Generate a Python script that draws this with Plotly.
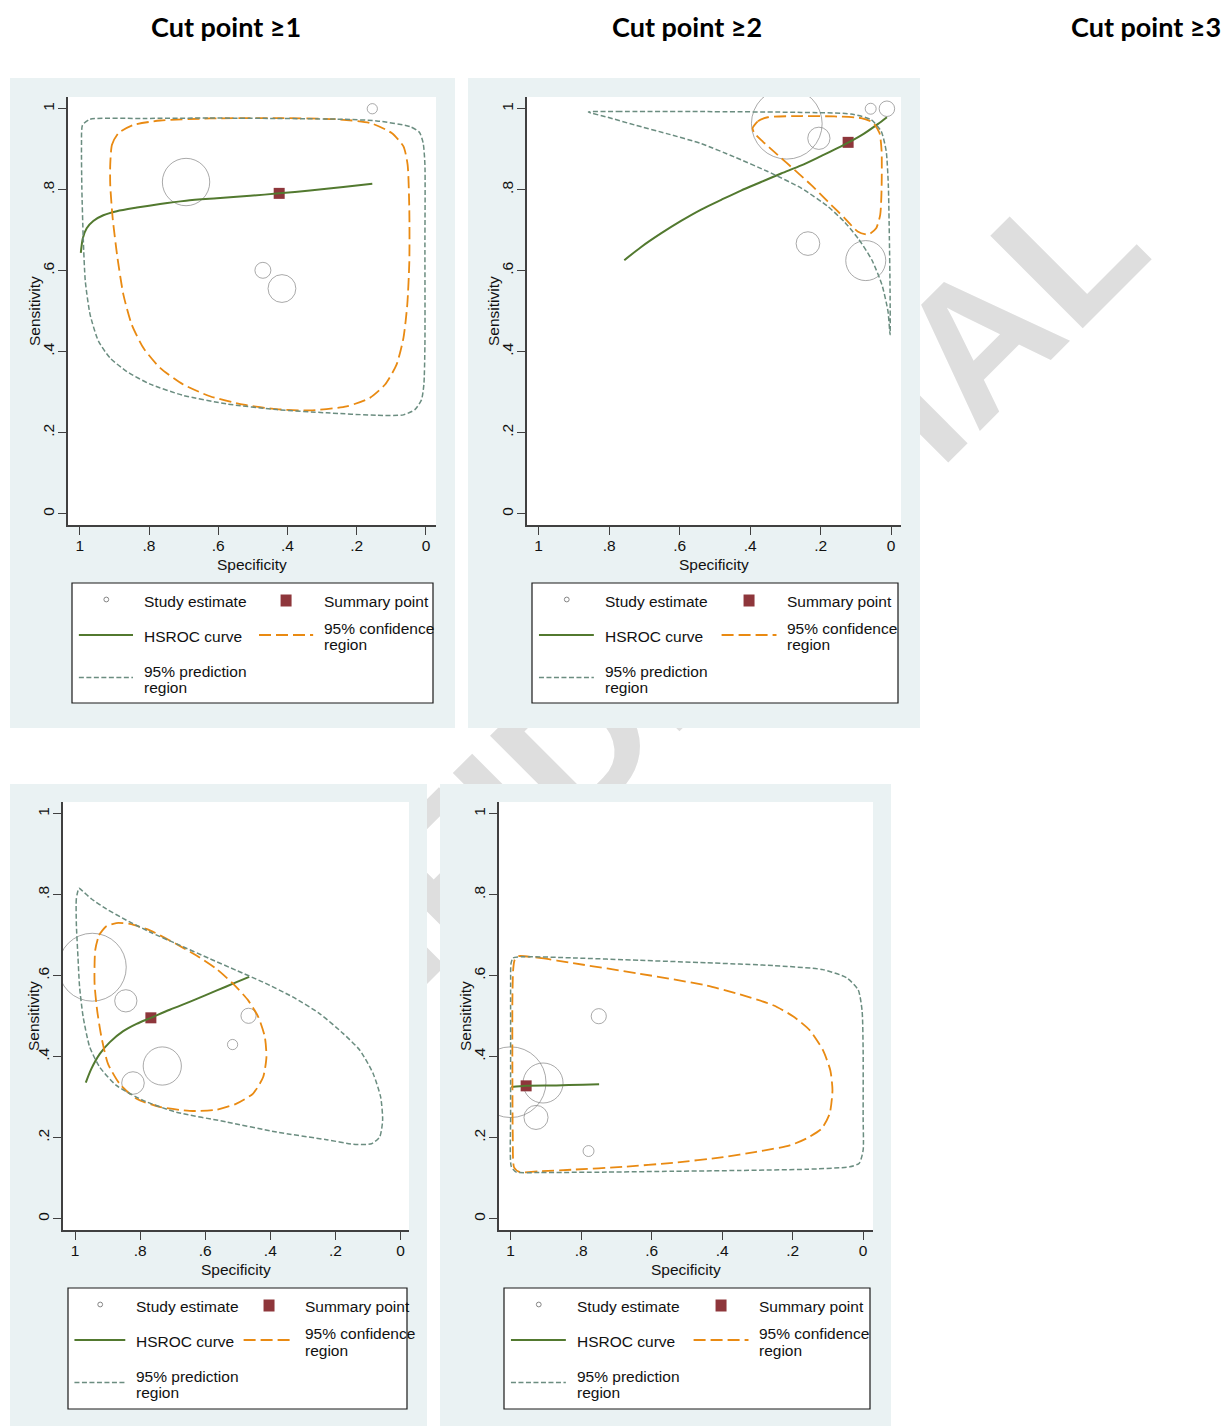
import plotly.graph_objects as go

# ---------------------------------------------------------------------------
# Study-level data (specificity, sensitivity, relative weight) per cut point
# ---------------------------------------------------------------------------
# Cut point >=1
c1_study_spec = [0.155, 0.693, 0.471, 0.416]
c1_study_sens = [1.000, 0.819, 0.601, 0.556]
c1_study_wt = [2.1, 44.9, 5.1, 15.5]
c1_summary_spec = [0.424]
c1_summary_sens = [0.791]
c1_hsroc_spec = [0.997, 0.991, 0.980, 0.961, 0.932, 0.893, 0.835, 0.768, 0.693,
                 0.604, 0.508, 0.424, 0.335, 0.239, 0.155]
c1_hsroc_sens = [0.644, 0.681, 0.705, 0.723, 0.737, 0.747, 0.756, 0.765, 0.773,
                 0.779, 0.785, 0.791, 0.798, 0.807, 0.815]
c1_conf_spec = [0.912, 0.907, 0.888, 0.845, 0.768, 0.624, 0.431, 0.258, 0.162, 0.099,
                0.065, 0.053, 0.048, 0.048, 0.054, 0.065, 0.085, 0.118, 0.162, 0.229,
                0.335, 0.431, 0.527, 0.624, 0.701, 0.768, 0.816, 0.850, 0.874, 0.891,
                0.905, 0.912, 0.912]
c1_conf_sens = [0.862, 0.911, 0.940, 0.960, 0.971, 0.976, 0.977, 0.974, 0.965, 0.940,
                0.907, 0.862, 0.747, 0.623, 0.516, 0.434, 0.368, 0.319, 0.286, 0.265,
                0.255, 0.258, 0.269, 0.290, 0.319, 0.360, 0.409, 0.467, 0.541, 0.631,
                0.730, 0.812, 0.862]
c1_pred_spec = [0.992, 0.970, 0.816, 0.624, 0.431, 0.239, 0.142, 0.046, 0.019, 0.008,
                0.003, 0.003, 0.003, 0.006, 0.013, 0.032, 0.065, 0.142, 0.287, 0.431,
                0.576, 0.701, 0.797, 0.864, 0.912, 0.946, 0.970, 0.984, 0.990, 0.994,
                0.995, 0.992]
c1_pred_sens = [0.960, 0.974, 0.976, 0.977, 0.976, 0.974, 0.970, 0.956, 0.942, 0.915,
                0.862, 0.664, 0.417, 0.319, 0.281, 0.257, 0.244, 0.243, 0.249, 0.257,
                0.271, 0.292, 0.320, 0.351, 0.384, 0.426, 0.491, 0.574, 0.681, 0.804,
                0.911, 0.960]

# Cut point >=2
c2_study_spec = [0.296, 0.205, 0.058, 0.012, 0.236, 0.072]
c2_study_sens = [0.963, 0.927, 1.000, 1.000, 0.667, 0.625]
c2_study_wt = [100.0, 9.9, 2.4, 4.8, 11.2, 32.0]
c2_summary_spec = [0.122]
c2_summary_sens = [0.917]
c2_hsroc_spec = [0.757, 0.710, 0.653, 0.596, 0.539, 0.482, 0.426, 0.369, 0.312, 0.255,
                 0.199, 0.142, 0.085, 0.038, 0.012]
c2_hsroc_sens = [0.626, 0.658, 0.692, 0.723, 0.751, 0.775, 0.798, 0.819, 0.840, 0.860,
                 0.883, 0.907, 0.934, 0.962, 0.979]
c2_conf_spec = [0.393, 0.378, 0.350, 0.255, 0.161, 0.085, 0.052, 0.033, 0.027, 0.027,
                0.031, 0.043, 0.066, 0.095, 0.132, 0.180, 0.227, 0.274, 0.322, 0.364,
                0.388, 0.393]
c2_conf_sens = [0.952, 0.969, 0.979, 0.982, 0.981, 0.977, 0.966, 0.940, 0.895, 0.804,
                0.738, 0.704, 0.689, 0.697, 0.730, 0.771, 0.812, 0.849, 0.886, 0.919,
                0.940, 0.952]
c2_pred_spec = [0.859, 0.776, 0.539, 0.255, 0.114, 0.057, 0.028, 0.014, 0.008, 0.005,
                0.003, 0.003, 0.009, 0.026, 0.055, 0.093, 0.132, 0.180, 0.255, 0.350,
                0.445, 0.539, 0.634, 0.728, 0.804, 0.859]
c2_pred_sens = [0.992, 0.993, 0.993, 0.991, 0.987, 0.973, 0.944, 0.895, 0.812, 0.681,
                0.549, 0.442, 0.500, 0.565, 0.627, 0.679, 0.720, 0.759, 0.804, 0.845,
                0.881, 0.914, 0.938, 0.960, 0.979, 0.992]

# Cut point >=3
c3_study_spec = [0.947, 0.844, 0.467, 0.516, 0.732, 0.822]
c3_study_sens = [0.621, 0.538, 0.501, 0.430, 0.377, 0.335]
c3_study_wt = [92.2, 9.9, 4.6, 2.1, 29.2, 10.2]
c3_summary_spec = [0.767]
c3_summary_sens = [0.496]
c3_hsroc_spec = [0.967, 0.950, 0.924, 0.893, 0.852, 0.811, 0.767, 0.709, 0.637,
                 0.566, 0.504, 0.465]
c3_hsroc_sens = [0.336, 0.370, 0.407, 0.436, 0.463, 0.481, 0.496, 0.516, 0.539,
                 0.563, 0.584, 0.597]
c3_conf_spec = [0.938, 0.926, 0.904, 0.873, 0.832, 0.770, 0.709, 0.627, 0.566, 0.514,
                0.468, 0.437, 0.417, 0.412, 0.422, 0.453, 0.504, 0.566, 0.648, 0.740,
                0.811, 0.863, 0.899, 0.919, 0.932, 0.940, 0.938]
c3_conf_sens = [0.663, 0.700, 0.722, 0.730, 0.728, 0.712, 0.687, 0.650, 0.617, 0.580,
                0.539, 0.498, 0.449, 0.399, 0.350, 0.309, 0.284, 0.269, 0.266, 0.276,
                0.296, 0.333, 0.383, 0.449, 0.514, 0.580, 0.663]
c3_pred_spec = [0.988, 0.996, 0.996, 0.991, 0.986, 0.975, 0.955, 0.924, 0.873, 0.791,
                0.689, 0.535, 0.381, 0.227, 0.145, 0.089, 0.064, 0.055, 0.061, 0.084,
                0.125, 0.176, 0.248, 0.330, 0.422, 0.504, 0.586, 0.689, 0.770, 0.842,
                0.904, 0.950, 0.981, 0.988]
c3_pred_sens = [0.816, 0.790, 0.728, 0.646, 0.572, 0.498, 0.424, 0.374, 0.329, 0.292,
                0.263, 0.239, 0.214, 0.195, 0.184, 0.185, 0.202, 0.243, 0.300, 0.358,
                0.416, 0.457, 0.506, 0.547, 0.584, 0.613, 0.642, 0.679, 0.708, 0.737,
                0.765, 0.790, 0.812, 0.816]

# Cut point >=4
c4_study_spec = [1.000, 0.908, 0.928, 0.750, 0.779]
c4_study_sens = [0.337, 0.335, 0.250, 0.500, 0.167]
c4_study_wt = [100.0, 32.0, 11.6, 4.6, 2.4]
c4_summary_spec = [0.956]
c4_summary_sens = [0.328]
c4_hsroc_spec = [0.998, 0.956, 0.870, 0.795, 0.749]
c4_hsroc_sens = [0.325, 0.328, 0.329, 0.331, 0.332]
c4_conf_spec = [0.979, 0.918, 0.823, 0.634, 0.445, 0.350, 0.255, 0.199, 0.151, 0.114,
                0.093, 0.087, 0.095, 0.118, 0.161, 0.208, 0.303, 0.397, 0.539, 0.681,
                0.823, 0.918, 0.974, 0.990, 0.994, 0.995, 0.995, 0.993, 0.989, 0.979]
c4_conf_sens = [0.648, 0.644, 0.631, 0.605, 0.576, 0.554, 0.527, 0.500, 0.465, 0.416,
                0.366, 0.317, 0.259, 0.222, 0.198, 0.181, 0.165, 0.152, 0.138, 0.128,
                0.121, 0.117, 0.115, 0.126, 0.210, 0.374, 0.539, 0.613, 0.638, 0.648]
c4_pred_spec = [0.999, 0.993, 0.965, 0.823, 0.634, 0.445, 0.255, 0.114, 0.047, 0.014,
                0.003, 0.000, 0.000, 0.000, 0.011, 0.038, 0.161, 0.350, 0.539, 0.728,
                0.918, 0.984, 0.998, 1.000, 1.000, 1.000, 0.999]
c4_pred_sens = [0.630, 0.644, 0.647, 0.644, 0.638, 0.632, 0.625, 0.615, 0.595, 0.565,
                0.514, 0.416, 0.251, 0.169, 0.137, 0.128, 0.122, 0.119, 0.117, 0.115,
                0.114, 0.115, 0.128, 0.251, 0.416, 0.580, 0.630]

# Axis ticks and labels
tick_vals = [0, 0.2, 0.4, 0.6, 0.8, 1]
tick_text = ["0", ".2", ".4", ".6", ".8", "1"]
headings = ["Cut point \u22651", "Cut point \u22652", "Cut point \u22653"]
legend_labels = ["Study estimate", "Summary point", "HSROC curve",
                 ["95% confidence", "region"], ["95% prediction", "region"]]
watermark_text = "CONFIDENTIAL"

# ---------------------------------------------------------------------------
# Page geometry (pixels on a 1225 x 1426 page)
# ---------------------------------------------------------------------------
W, H = 1225, 1426


def fx(px):
    return px / W


def fy(py):
    return 1 - py / H


SANS = "Liberation Sans, Arial, sans-serif"
HEAD_FONT = "Lato, Carlito, Open Sans, sans-serif"
FS = 15.5

PANEL_BG = "#eaf2f3"
AXIS_C = "#404040"
TEXT_C = "#111111"
STUDY_C = "#858585"
SUMMARY_C = "#8e363b"
HSROC_C = "#52792f"
CONF_C = "#e98a12"
PRED_C = "#6b8d80"

panels = [
    dict(data=(c1_study_spec, c1_study_sens, c1_study_wt, c1_summary_spec, c1_summary_sens,
               c1_hsroc_spec, c1_hsroc_sens, c1_conf_spec, c1_conf_sens, c1_pred_spec, c1_pred_sens),
         plot=(68, 436, 97, 525), xr=[1.034, -0.029], bg=(10, 455, 78, 728),
         leg=(72, 433, 583, 703), ytitle_dx=34),
    dict(data=(c2_study_spec, c2_study_sens, c2_study_wt, c2_summary_spec, c2_summary_sens,
               c2_hsroc_spec, c2_hsroc_sens, c2_conf_spec, c2_conf_sens, c2_pred_spec, c2_pred_sens),
         plot=(527, 901, 97, 525), xr=[1.033, -0.028], bg=(468, 920, 78, 728),
         leg=(532, 898, 583, 703), ytitle_dx=34),
    dict(data=(c3_study_spec, c3_study_sens, c3_study_wt, c3_summary_spec, c3_summary_sens,
               c3_hsroc_spec, c3_hsroc_sens, c3_conf_spec, c3_conf_sens, c3_pred_spec, c3_pred_sens),
         plot=(63, 409, 802, 1230), xr=[1.037, -0.026], bg=(10, 427, 784, 1426),
         leg=(68, 407, 1288, 1409), ytitle_dx=30),
    dict(data=(c4_study_spec, c4_study_sens, c4_study_wt, c4_summary_spec, c4_summary_sens,
               c4_hsroc_spec, c4_hsroc_sens, c4_conf_spec, c4_conf_sens, c4_pred_spec, c4_pred_sens),
         plot=(499, 873, 802, 1230), xr=[1.033, -0.028], bg=(440, 891, 784, 1426),
         leg=(504, 870, 1288, 1409), ytitle_dx=34),
]
YR = [-0.028, 1.029]

fig = go.Figure()
layout = dict(width=W, height=H, margin=dict(l=0, r=0, t=0, b=0),
              paper_bgcolor="white", plot_bgcolor="white", showlegend=False)
shapes = []
annotations = []

# Page-wide watermark, drawn first so the panels sit on top of it
WM_X, WM_Y = 609, 679
fig.add_trace(go.Bar(
    x=[WM_X], y=[WM_Y + 620], base=[WM_Y - 620], width=[1180], text=[watermark_text],
    textposition="inside", insidetextanchor="middle", textangle=-45,
    constraintext="none",
    textfont=dict(family=SANS, size=190, color="#dedede", weight="bold"),
    insidetextfont=dict(family=SANS, size=190, color="#dedede", weight="bold"),
    marker=dict(color="rgba(0,0,0,0)", line=dict(width=0)),
    hoverinfo="skip", xaxis="x", yaxis="y"))
layout["xaxis"] = dict(domain=[0, 1], range=[0, W], visible=False, fixedrange=True)
layout["yaxis"] = dict(domain=[0, 1], range=[H, 0], visible=False, fixedrange=True)

# Panel backgrounds (one helper subplot each)
for i, p in enumerate(panels):
    k = 2 + i
    x0, x1, y0, y1 = p["bg"]
    fig.add_trace(go.Scatter(x=[None], y=[None], mode="markers", hoverinfo="skip",
                             xaxis=f"x{k}", yaxis=f"y{k}"))
    layout[f"xaxis{k}"] = dict(domain=[fx(x0), fx(x1)], range=[0, 1], visible=False,
                               anchor=f"y{k}", fixedrange=True)
    layout[f"yaxis{k}"] = dict(domain=[fy(y1), fy(y0)], range=[0, 1], visible=False,
                               anchor=f"x{k}", fixedrange=True)
    shapes.append(dict(type="rect", xref=f"x{k}", yref=f"y{k}", x0=-0.01, x1=1.01,
                       y0=-0.01, y1=1.01, fillcolor=PANEL_BG, line=dict(width=0),
                       layer="below"))

# SROC plots
for i, p in enumerate(panels):
    k = 6 + i
    (st_x, st_y, st_w, su_x, su_y, hs_x, hs_y, ci_x, ci_y, pr_x, pr_y) = p["data"]
    xa, ya = f"x{k}", f"y{k}"
    fig.add_trace(go.Scatter(
        x=st_x, y=st_y, mode="markers", xaxis=xa, yaxis=ya, hoverinfo="skip",
        marker=dict(symbol="circle-open", color=STUDY_C, size=st_w, sizemode="area",
                    sizeref=0.04, line=dict(width=1, color=STUDY_C))))
    fig.add_trace(go.Scatter(
        x=su_x, y=su_y, mode="markers", xaxis=xa, yaxis=ya, hoverinfo="skip",
        marker=dict(symbol="square", color=SUMMARY_C, size=11, line=dict(width=0))))
    fig.add_trace(go.Scatter(
        x=hs_x, y=hs_y, mode="lines", xaxis=xa, yaxis=ya, hoverinfo="skip",
        line=dict(color=HSROC_C, width=2, shape="spline", smoothing=0.8)))
    fig.add_trace(go.Scatter(
        x=ci_x, y=ci_y, mode="lines", xaxis=xa, yaxis=ya, hoverinfo="skip",
        line=dict(color=CONF_C, width=1.8, dash="12px,5px", shape="spline", smoothing=0.6)))
    fig.add_trace(go.Scatter(
        x=pr_x, y=pr_y, mode="lines", xaxis=xa, yaxis=ya, hoverinfo="skip",
        line=dict(color=PRED_C, width=1.5, dash="5px,2.5px", shape="spline", smoothing=0.6)))

    px0, px1, py0, py1 = p["plot"]
    common = dict(ticks="outside", ticklen=8, tickwidth=1.3, tickcolor=AXIS_C,
                  showline=True, linecolor=AXIS_C, linewidth=1.5, showgrid=False,
                  zeroline=False, fixedrange=True, ticklabelstandoff=-2,
                  tickfont=dict(family=SANS, size=FS, color=TEXT_C),
                  tickvals=tick_vals, ticktext=tick_text)
    layout[f"xaxis{k}"] = dict(domain=[fx(px0), fx(px1)], range=p["xr"], anchor=ya, **common)
    layout[f"yaxis{k}"] = dict(domain=[fy(py1), fy(py0)], range=YR, anchor=xa,
                               tickangle=-90, **common)

    # axis titles
    annotations.append(dict(text="Specificity", x=fx((px0 + px1) / 2), y=fy(py1 + 39),
                            xref="paper", yref="paper", showarrow=False,
                            xanchor="center", yanchor="middle",
                            font=dict(family=SANS, size=FS, color=TEXT_C)))
    annotations.append(dict(text="Sensitivity", x=fx(px0 - p["ytitle_dx"]),
                            y=fy((py0 + py1) / 2), xref="paper", yref="paper",
                            showarrow=False, textangle=-90, xanchor="center",
                            yanchor="middle",
                            font=dict(family=SANS, size=FS, color=TEXT_C)))

    # legend box
    L, R, T, B = p["leg"]
    Wd = R - L
    shapes.append(dict(type="rect", xref="paper", yref="paper", x0=fx(L), x1=fx(R),
                       y0=fy(B), y1=fy(T), fillcolor="white",
                       line=dict(color="#1a1a1a", width=1.2), layer="above"))
    cx, cy, r = L + 0.095 * Wd, T + 16.5, 2.4
    shapes.append(dict(type="circle", xref="paper", yref="paper", x0=fx(cx - r),
                       x1=fx(cx + r), y0=fy(cy + r), y1=fy(cy - r),
                       line=dict(color=STUDY_C, width=1), layer="above"))
    sx, sy = L + 0.593 * Wd, T + 17.5
    shapes.append(dict(type="rect", xref="paper", yref="paper", x0=fx(sx - 5.5),
                       x1=fx(sx + 5.5), y0=fy(sy + 6), y1=fy(sy - 6),
                       fillcolor=SUMMARY_C, line=dict(width=0), layer="above"))
    shapes.append(dict(type="line", xref="paper", yref="paper", x0=fx(L + 0.019 * Wd),
                       x1=fx(L + 0.169 * Wd), y0=fy(T + 52), y1=fy(T + 52),
                       line=dict(color=HSROC_C, width=2), layer="above"))
    shapes.append(dict(type="line", xref="paper", yref="paper", x0=fx(L + 0.518 * Wd),
                       x1=fx(L + 0.668 * Wd), y0=fy(T + 52), y1=fy(T + 52),
                       line=dict(color=CONF_C, width=1.8, dash="12px,5px"), layer="above"))
    shapes.append(dict(type="line", xref="paper", yref="paper", x0=fx(L + 0.019 * Wd),
                       x1=fx(L + 0.169 * Wd), y0=fy(T + 94.5), y1=fy(T + 94.5),
                       line=dict(color=PRED_C, width=1.5, dash="5px,2.5px"), layer="above"))

    c1x, c2x = L + 0.194 * Wd, L + 0.692 * Wd
    legend_rows = [
        (legend_labels[0], c1x, T + 18.5),
        (legend_labels[1], c2x, T + 18.5),
        (legend_labels[2], c1x, T + 53.5),
        (legend_labels[3][0], c2x, T + 45),
        (legend_labels[3][1], c2x, T + 62),
        (legend_labels[4][0], c1x, T + 88),
        (legend_labels[4][1], c1x, T + 104.5),
    ]
    for txt, tx, ty in legend_rows:
        annotations.append(dict(text=txt, x=fx(tx), y=fy(ty), xref="paper", yref="paper",
                                showarrow=False, xanchor="left", yanchor="middle",
                                font=dict(family=SANS, size=FS, color=TEXT_C)))

# Column headings
for txt, hx in zip(headings, [226, 687, 1146]):
    annotations.append(dict(text=f"<b>{txt}</b>", x=fx(hx), y=fy(26), xref="paper",
                            yref="paper", showarrow=False, xanchor="center",
                            yanchor="middle",
                            font=dict(family=HEAD_FONT, size=27, color="#000000")))

layout["shapes"] = shapes
layout["annotations"] = annotations
fig.update_layout(**layout)
fig.write_html("out.html")
